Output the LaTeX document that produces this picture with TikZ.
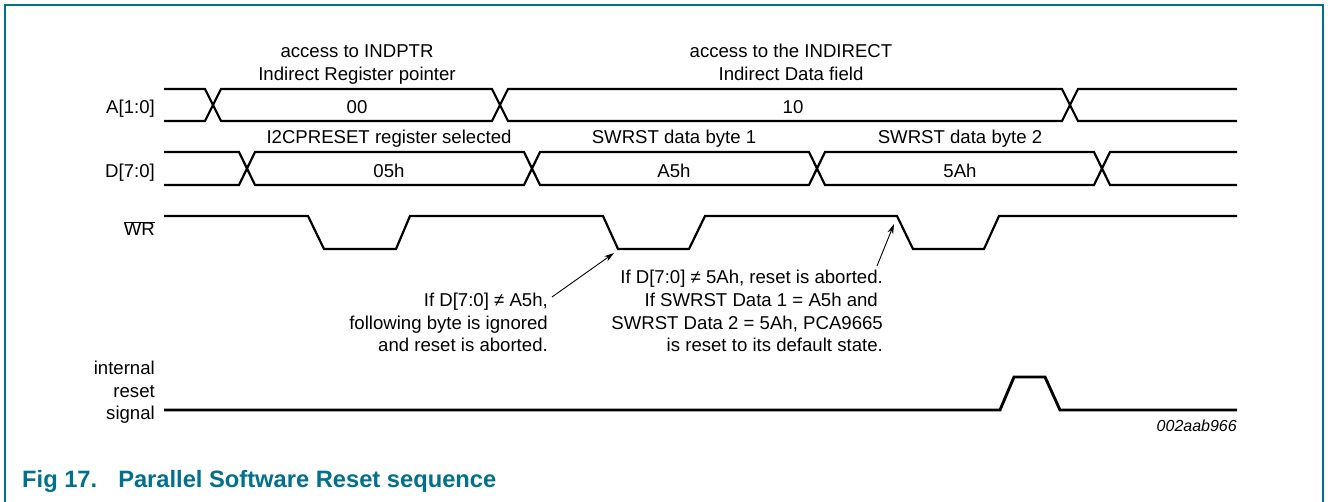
\documentclass[tikz,border=0pt]{standalone}
\usepackage{fontspec}
\setmainfont{Liberation Sans}
\usetikzlibrary{arrows.meta}
\definecolor{nxpteal}{RGB}{0,112,140}
\begin{document}
\begin{tikzpicture}[x=1pt,y=-1pt,
  sig/.style={line width=2.2pt},
  rst/.style={line width=2.9pt},
  txt/.style={inner sep=0pt, font=\fontsize{18.6}{22}\selectfont},
  rlbl/.style={txt, anchor=base east},
  clbl/.style={txt, anchor=base},
  callout/.style={line width=0.9pt, -{Stealth[length=10pt,width=6pt]}}]
\useasboundingbox (0,0) rectangle (1328,502);
\fill[white] (0,0) rectangle (1328,502);
\draw[nxpteal, line width=1.5pt] (5,512) -- (5,5) -- (1323,5) -- (1323,512);

% signal names
\node[rlbl] (la) at (155,114) {A[1:0]};
\node[rlbl] (ld) at (155,178) {D[7:0]};
\node[rlbl] (lw) at (155,236) {$\overline{\hbox{WR}}$};
\node[rlbl] (lr1) at (155,375) {internal};
\node[rlbl] (lr2) at (155,397.5) {reset};
\node[rlbl] (lr3) at (155,420) {signal};

% A bus
\draw[sig] (164,89) -- (205,89) -- (221,121) -- (492,121) -- (508,89) -- (1062,89) -- (1078,121) -- (1237,121);
\draw[sig] (164,121) -- (205,121) -- (221,89) -- (492,89) -- (508,121) -- (1062,121) -- (1078,89) -- (1237,89);
\node[clbl] (ta1) at (357,58) {access to INDPTR};
\node[clbl] (ta2) at (357,81) {Indirect Register pointer};
\node[clbl] (tb1) at (791,58) {access to the INDIRECT};
\node[clbl] (tb2) at (791,81) {Indirect Data field};
\node[clbl] (va1) at (357,114) {00};
\node[clbl] (va2) at (793,114) {10};

% D bus
\draw[sig] (164,152) -- (239,152) -- (255,185) -- (524,185) -- (540,152) -- (809,152) -- (825,185) -- (1094,185) -- (1110,152) -- (1237,152);
\draw[sig] (164,185) -- (239,185) -- (255,152) -- (524,152) -- (540,185) -- (809,185) -- (825,152) -- (1094,152) -- (1110,185) -- (1237,185);
\node[clbl] (td1) at (389,144) {I2CPRESET register selected};
\node[clbl] (td2) at (674,144) {SWRST data byte 1};
\node[clbl] (td3) at (960,144) {SWRST data byte 2};
\node[clbl] (vd1) at (389,178) {05h};
\node[clbl] (vd2) at (674,178) {A5h};
\node[clbl] (vd3) at (960,178) {5Ah};

% WR
\draw[sig] (164,216) -- (308,216) -- (324,249) -- (396,249) -- (410,216) -- (603,216) -- (618,249) -- (689,249) -- (705,216) -- (897,216) -- (913,249) -- (984,249) -- (999,216) -- (1237,216);

% internal reset
\draw[rst] (164,410) -- (1000,410) -- (1014,377) -- (1045,377) -- (1060,410) -- (1237,410);

% annotations
\node[rlbl] (n1a) at (548,306.6) {If D[7:0] ≠ A5h,};
\node[rlbl] (n1b) at (548,329.3) {following byte is ignored};
\node[rlbl] (n1c) at (548,352) {and reset is aborted.};
\node[rlbl] (n2a) at (883,283.9) {If D[7:0] ≠ 5Ah, reset is aborted.};
\node[rlbl] (n2b) at (878,306.6) {If SWRST Data 1 = A5h and};
\node[rlbl] (n2c) at (883,329.3) {SWRST Data 2 = 5Ah, PCA9665};
\node[rlbl] (n2d) at (883,352) {is reset to its default state.};

\coordinate (tail1) at (552,297);
\coordinate (tip1) at (614,253);
\coordinate (tail2) at (877,266);
\coordinate (tip2) at (894,224);
\draw[callout] (tail1) -- (tip1);
\draw[callout] (tail2) -- (tip2);

\node[anchor=base east, inner sep=0pt, font=\itshape\fontsize{16}{19}\selectfont] (fid) at (1237,431.5) {002aab966};

\node[anchor=base west, inner sep=0pt, text=nxpteal, font=\bfseries\fontsize{23.7}{28}\selectfont] (title) at (22,487) {Fig 17.\hspace{21pt}Parallel Software Reset sequence};
\end{tikzpicture}
\end{document}
